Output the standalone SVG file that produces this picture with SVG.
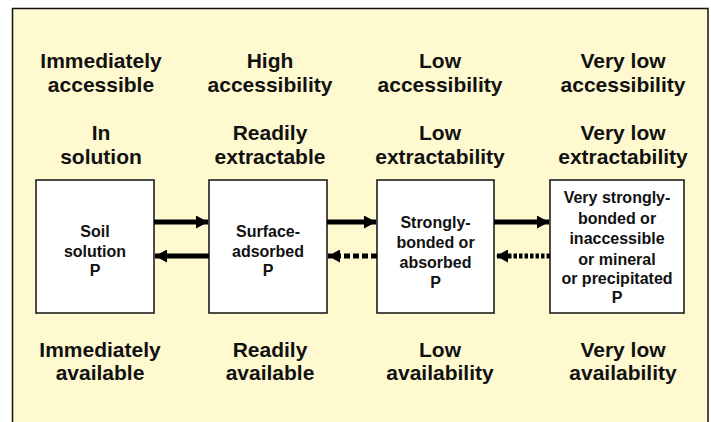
<svg xmlns="http://www.w3.org/2000/svg" width="711" height="422" viewBox="0 0 711 422">
<style>
.lbl{font-family:"Liberation Sans",Arial,sans-serif;font-weight:bold;font-size:21px;fill:#111;text-anchor:middle}
.box{fill:#ffffff;stroke:#111;stroke-width:1.5}
.bt{font-family:"Liberation Sans",Arial,sans-serif;font-weight:bold;font-size:16px;fill:#111;text-anchor:middle}
.arr{stroke:#000;stroke-width:5;fill:none}
</style>
<defs>
<marker id="head" markerUnits="userSpaceOnUse" viewBox="0 0 12 13" refX="12" refY="6.5" markerWidth="12" markerHeight="13" orient="auto">
<path d="M0,0 L12,6.5 L0,13 z" fill="#000"/>
</marker>
</defs>
<rect x="12.5" y="8.5" width="695.5" height="420" fill="#fff9d0" stroke="#111" stroke-width="1.5"/>
<g id="labels">
<text class="lbl" x="101" y="68">Immediately</text>
<text class="lbl" x="101" y="92">accessible</text>
<text class="lbl" x="270" y="68">High</text>
<text class="lbl" x="270" y="92">accessibility</text>
<text class="lbl" x="440" y="68">Low</text>
<text class="lbl" x="440" y="92">accessibility</text>
<text class="lbl" x="623" y="68">Very low</text>
<text class="lbl" x="623" y="92">accessibility</text>
<text class="lbl" x="101" y="140">In</text>
<text class="lbl" x="101" y="164">solution</text>
<text class="lbl" x="270" y="140">Readily</text>
<text class="lbl" x="270" y="164">extractable</text>
<text class="lbl" x="440" y="140">Low</text>
<text class="lbl" x="440" y="164">extractability</text>
<text class="lbl" x="623" y="140">Very low</text>
<text class="lbl" x="623" y="164">extractability</text>
<text class="lbl" x="100" y="357">Immediately</text>
<text class="lbl" x="100" y="380">available</text>
<text class="lbl" x="270" y="357">Readily</text>
<text class="lbl" x="270" y="380">available</text>
<text class="lbl" x="440" y="357">Low</text>
<text class="lbl" x="440" y="380">availability</text>
<text class="lbl" x="623" y="357">Very low</text>
<text class="lbl" x="623" y="380">availability</text>
</g>
<g id="node-soil-solution">
<rect class="box" x="36" y="180" width="118" height="133"/>
<text class="bt" x="95" y="237">Soil</text>
<text class="bt" x="95" y="257">solution</text>
<text class="bt" x="95" y="276">P</text>
</g>
<g id="node-surface-adsorbed">
<rect class="box" x="209" y="180" width="118" height="133"/>
<text class="bt" x="268" y="237">Surface-</text>
<text class="bt" x="268" y="257">adsorbed</text>
<text class="bt" x="268" y="276">P</text>
</g>
<g id="node-strongly-bonded">
<rect class="box" x="377" y="180" width="117" height="133"/>
<text class="bt" x="435.5" y="228">Strongly-</text>
<text class="bt" x="435.5" y="248">bonded or</text>
<text class="bt" x="435.5" y="268">absorbed</text>
<text class="bt" x="435.5" y="288">P</text>
</g>
<g id="node-very-strongly-bonded">
<rect class="box" x="550" y="180" width="134" height="133"/>
<text class="bt" x="617" y="203">Very strongly-</text>
<text class="bt" x="617" y="224">bonded or</text>
<text class="bt" x="617" y="244">inaccessible</text>
<text class="bt" x="617" y="265">or mineral</text>
<text class="bt" x="617" y="284">or precipitated</text>
<text class="bt" x="617" y="303">P</text>
</g>
<g id="connectors">
<line class="arr" x1="154" y1="222" x2="208" y2="222" marker-end="url(#head)"/>
<line class="arr" x1="209" y1="256" x2="155" y2="256" marker-end="url(#head)"/>
<line class="arr" x1="327" y1="222" x2="376" y2="222" marker-end="url(#head)"/>
<line class="arr" x1="377" y1="256" x2="328" y2="256" stroke-dasharray="6 3" marker-end="url(#head)"/>
<line class="arr" x1="494" y1="222" x2="549" y2="222" marker-end="url(#head)"/>
<line class="arr" x1="550" y1="256" x2="496" y2="256" stroke-dasharray="3.5 2" marker-end="url(#head)"/>
</g>
</svg>
